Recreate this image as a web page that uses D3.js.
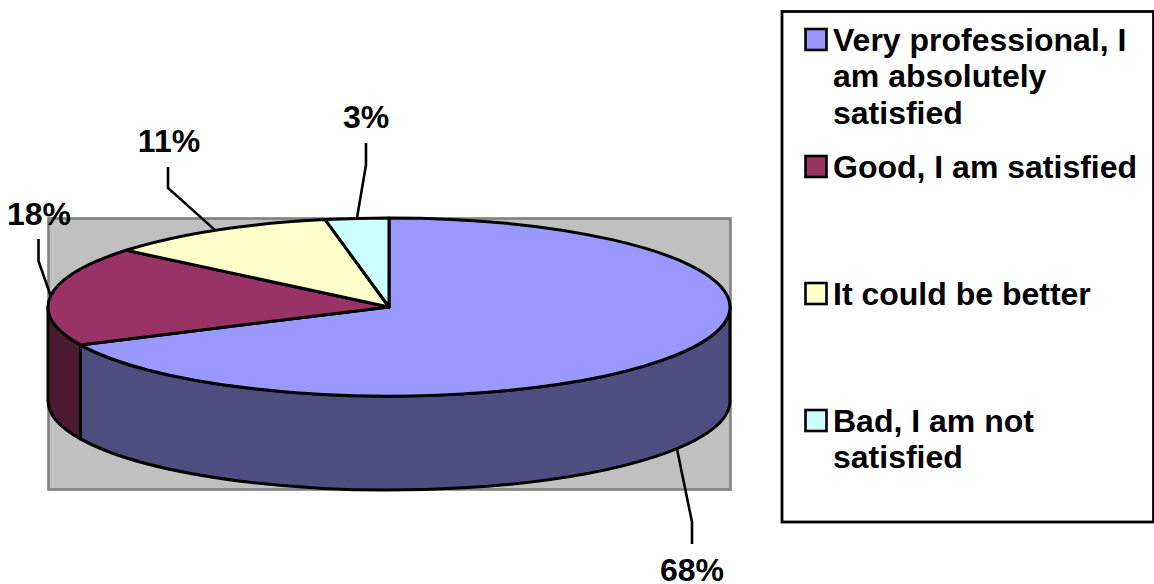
<!DOCTYPE html>
<html>
<head>
<meta charset="utf-8">
<script src="https://cdnjs.cloudflare.com/ajax/libs/d3/7.8.5/d3.min.js"></script>
<style>
html,body{margin:0;padding:0;background:#fff;overflow:hidden}
svg{display:block}
text{font-family:"Liberation Sans",Arial,sans-serif;font-weight:bold;fill:#000}
</style>
</head>
<body>
<svg id="chart" width="1154" height="584"></svg>
<script>
const categories = [
  "Very professional, I am absolutely satisfied",
  "Good, I am satisfied",
  "It could be better",
  "Bad, I am not satisfied"
];
const shares = [68, 18, 11, 3];
const topColours = ["#9999ff", "#993366", "#ffffcc", "#ccffff"];
const sideColours = ["#4d4d80", "#4d1a33", "#808066", "#668080"];
const legendLines = [
  ["Very professional, I", "am absolutely", "satisfied"],
  ["Good, I am satisfied"],
  ["It could be better"],
  ["Bad, I am not", "satisfied"]
];

const svg = d3.select("#chart");
const cx = 389, cy = 307, rx = 341, ry = 89, depth = 94;
const inkWidth = 3;

// Projection of the tilted disc: unit coordinates to page pixels.
const px = d3.scaleLinear().domain([-1, 1]).range([cx - rx, cx + rx]);
const py = d3.scaleLinear().domain([-1, 1]).range([cy - ry, cy + ry]);
const rim = (a, drop = 0) => [px(Math.sin(a)), py(-Math.cos(a)) + drop];

const slices = d3.pie().sort(null)(shares);

// Plot-area backdrop
svg.append("rect").attr("x", 48.5).attr("y", 218.5).attr("width", 682).attr("height", 271)
  .attr("fill", "#c0c0c0").attr("stroke", "#808080").attr("stroke-width", 2.6);

// Visible part of the wall: the rim between 90 and 270 degrees
const lo = Math.PI / 2, hi = 3 * Math.PI / 2;
function wallPath(a0, a1) {
  const s = Math.max(a0, lo), e = Math.min(a1, hi);
  if (e <= s) return null;
  const p0 = rim(s), p1 = rim(e), q1 = rim(e, depth), q0 = rim(s, depth);
  return `M${p0}A${rx},${ry} 0 0 1 ${p1}L${q1}A${rx},${ry} 0 0 0 ${q0}Z`;
}
svg.append("g").selectAll("path").data(slices).join("path")
  .attr("d", d => wallPath(d.startAngle, d.endAngle))
  .attr("fill", (d, i) => sideColours[i])
  .attr("stroke", "#000").attr("stroke-width", inkWidth).attr("stroke-linejoin", "round");

// Top face
function topPath(d) {
  const p0 = rim(d.startAngle), p1 = rim(d.endAngle);
  const large = d.endAngle - d.startAngle > Math.PI ? 1 : 0;
  return `M${cx},${cy}L${p0}A${rx},${ry} 0 ${large} 1 ${p1}Z`;
}
svg.append("g").selectAll("path").data(slices).join("path")
  .attr("d", topPath)
  .attr("fill", (d, i) => topColours[i])
  .attr("stroke", "#000").attr("stroke-width", inkWidth).attr("stroke-linejoin", "round");

// Percentage labels with elbow leaders running from each slice's mid-angle
const labelPlaces = [
  { x: 692, y: 581, elbow: [692, 522], end: [692, 544] },
  { x: 39, y: 225, elbow: [38.5, 261], end: [38.5, 239] },
  { x: 169, y: 152, elbow: [168, 188], end: [168, 167] },
  { x: 366, y: 128, elbow: [366, 165], end: [366, 143] }
];
const leader = d3.line();
slices.forEach((d, i) => {
  const mid = (d.startAngle + d.endAngle) / 2;
  const onFront = mid > lo && mid < hi;
  const place = labelPlaces[i];
  svg.append("path")
    .attr("d", leader([rim(mid, onFront ? depth : 0), place.elbow, place.end]))
    .attr("fill", "none").attr("stroke", "#000").attr("stroke-width", 2.6);
  svg.append("text").attr("x", place.x).attr("y", place.y)
    .attr("text-anchor", "middle").attr("font-size", 32)
    .text(d3.format(".0%")(d.data / 100));
});

// Legend
svg.append("rect").attr("x", 782).attr("y", 11.5).attr("width", 371.5).attr("height", 510.5)
  .attr("fill", "#fff").attr("stroke", "#000").attr("stroke-width", 2.8);
const legendBaselines = [[51, 87, 124], [178], [305], [432, 468]];
const legend = svg.append("g");
categories.forEach((c, i) => {
  const row = legend.append("g").attr("data-category", c);
  row.append("rect").attr("x", 805.5).attr("y", legendBaselines[i][0] - 22)
    .attr("width", 21).attr("height", 21)
    .attr("fill", topColours[i]).attr("stroke", "#000").attr("stroke-width", 2.6);
  legendLines[i].forEach((line, j) => {
    row.append("text").attr("x", 833).attr("y", legendBaselines[i][j])
      .attr("font-size", 32).text(line);
  });
});
</script>
</body>
</html>
